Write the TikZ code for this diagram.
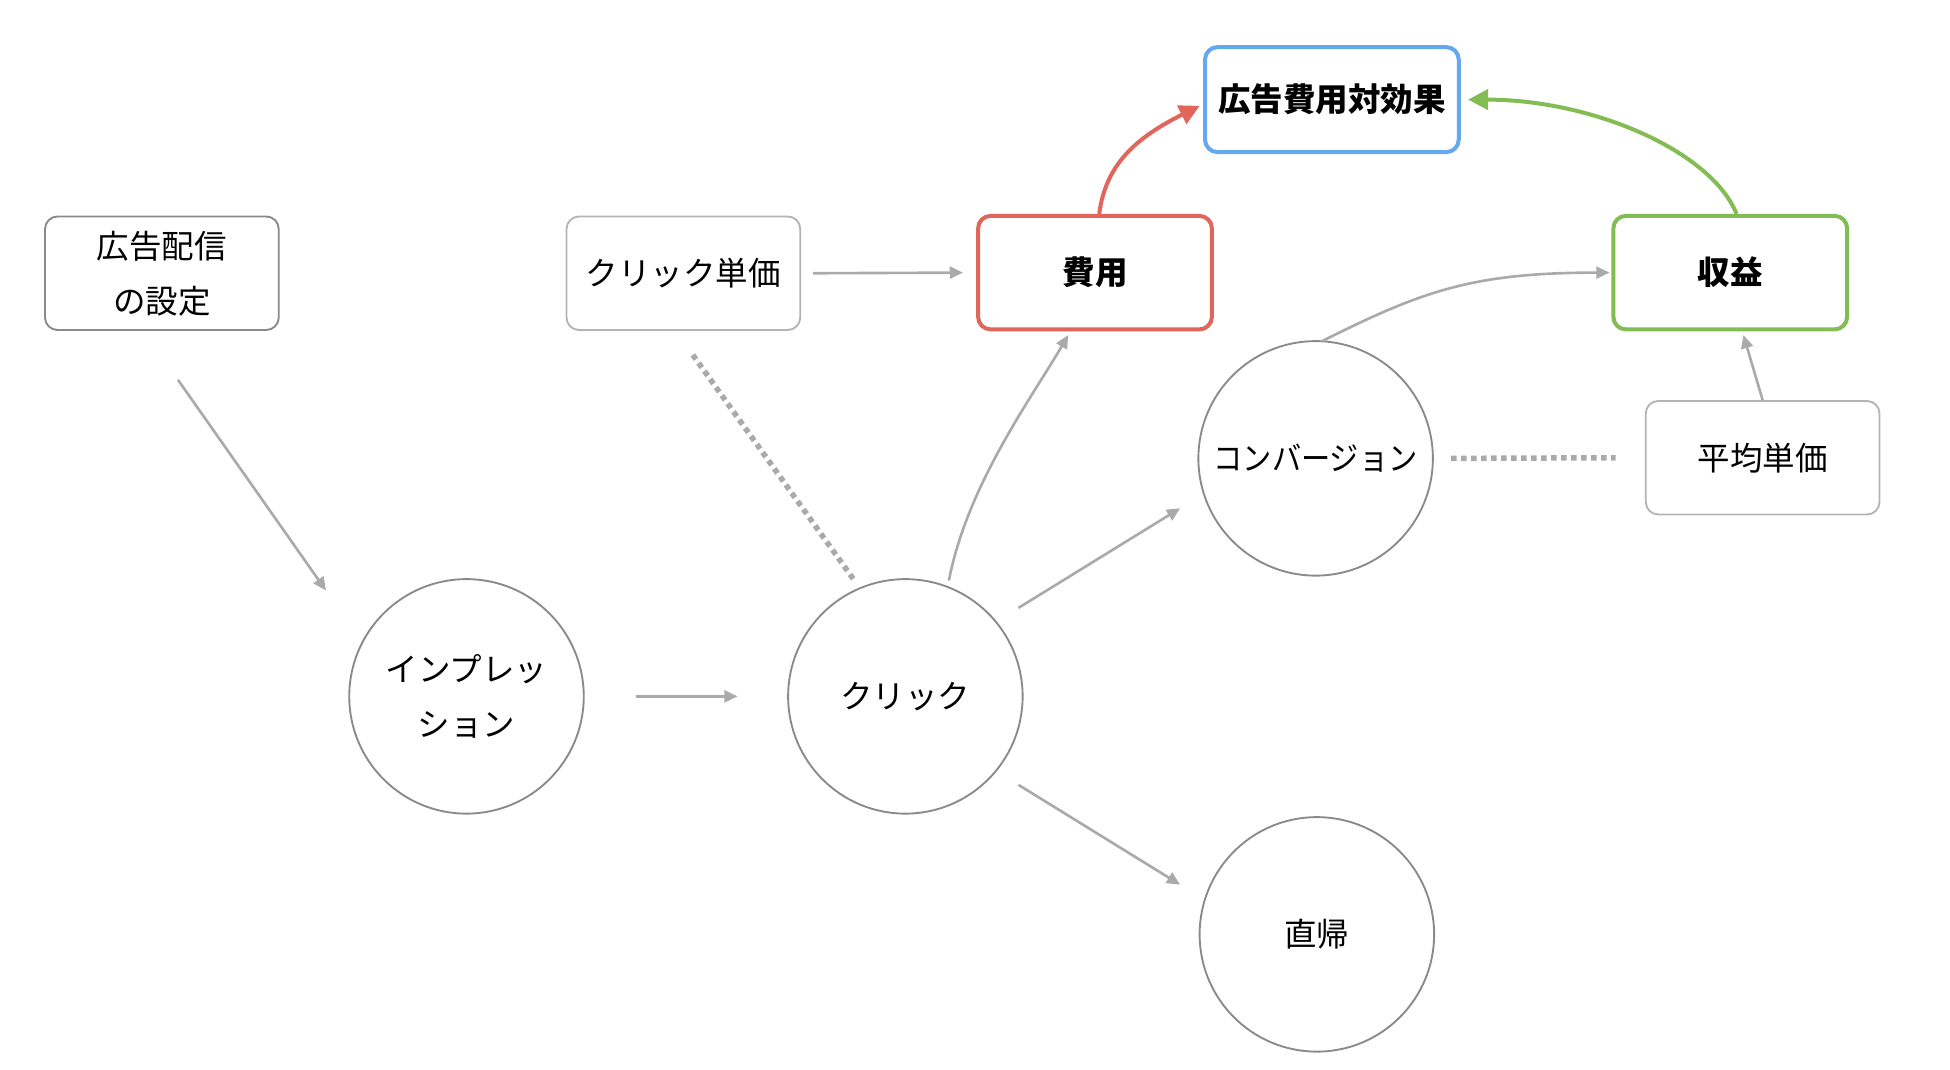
\documentclass[tikz,border=0pt]{standalone}
\usepackage{fontspec}
\setmainfont{Noto Sans CJK JP}
\usetikzlibrary{arrows.meta,calc}
\definecolor{arrgray}{HTML}{AAAAAA}
\definecolor{circgray}{HTML}{8A8A8A}
\definecolor{boxgray}{HTML}{8A8A8A}
\definecolor{lightbox}{HTML}{B4B4B4}
\definecolor{redc}{HTML}{E0665C}
\definecolor{bluec}{HTML}{66A8F0}
\definecolor{greenc}{HTML}{84BC54}
\tikzset{
  txt/.style={font=\fontsize{13}{22}\selectfont, align=center, text=black},
  basebox/.style={txt, rectangle, rounded corners=5pt, minimum width=93.5pt, minimum height=45.4pt, inner sep=0pt},
  graybox/.style={basebox, draw=boxgray, line width=0.75pt},
  lightgraybox/.style={basebox, draw=lightbox, line width=0.75pt},
  colbox/.style={basebox, line width=1.6pt, font=\fontsize{13}{22}\selectfont\bfseries},
  circ/.style={txt, circle, draw=circgray, line width=0.75pt, minimum size=93.8pt, inner sep=0pt},
  arr/.style={draw=arrgray, line width=1.05pt, -{Triangle[length=5.3pt,width=4.8pt]}},
  dotline/.style={draw=arrgray, line width=2.2pt, dash pattern=on 2.2pt off 1.8pt},
  colarr/.style={line width=1.6pt, -{Triangle[length=8pt,width=8pt]}}
}
\begin{document}
\begin{tikzpicture}[x=0.5pt,y=-0.5pt]
\useasboundingbox (0,0) rectangle (1560,856);
% boxes
\node[graybox] (haishin) at (129.5,218.6) {広告配信\\の設定};
\node[lightgraybox] (tanka) at (546.7,218.6) {クリック単価};
\node[colbox, draw=redc] (hiyou) at (876,218.1) {費用};
\node[colbox, draw=bluec, minimum width=101.5pt, minimum height=42pt] (roas) at (1065.5,79.7) {広告費用対効果};
\node[colbox, draw=greenc] (shueki) at (1384.2,218.1) {収益};
\node[lightgraybox] (heikin) at (1410.1,366.2) {平均単価};
% circles
\node[circ] (imp) at (373.2,557.1) {インプレッ\\ション};
\node[circ] (click) at (724.3,557.1) {クリック};
\node[circ] (conv) at (1052.5,366.7) {\scalebox{0.9}[1]{コンバージョン}};
\node[circ] (bounce) at (1053.5,747.5) {直帰};
% gray arrows
\draw[arr] ($(haishin)+(12.9,85.3)$) -- ($(imp)+(-112.4,-84.7)$);
\draw[arr] ($(imp)+(135.2,0)$) -- ($(click)+(-134.3,0)$);
\draw[arr] ($(tanka.east)+(9.5,0)$) -- ($(hiyou.west)+(-10.5,0)$);
\draw[arr] ($(click)+(34.8,-92.7)$) .. controls +(15,-77) and +(-29,50) .. ($(hiyou)+(-21.4,49.9)$);
\draw[arr] ($(click)+(90.5,-70.8)$) -- ($(conv)+(-108.4,39.9)$);
\draw[arr] ($(click)+(90.5,70.8)$) -- ($(bounce)+(-109.4,-39.8)$);
\draw[arr] ($(conv)+(5,-93.7)$) .. controls +(80,-40) and +(-110,0) .. ($(shueki.west)+(-1.5,0)$);
\draw[arr] (heikin.north) -- ($(shueki)+(10.5,49.9)$);
% dotted
\draw[dotline] ($(tanka)+(7.5,65.3)$) -- ($(click)+(-40.8,-92.7)$);
\draw[dotline] ($(conv)+(108.4,0)$) -- ($(heikin.west)+(-23.4,0)$);
% coloured arrows
\draw[colarr, draw=redc] ($(hiyou.north)+(3.4,0)$) .. controls +(5,-40) and +(-50,25) .. ($(roas.west)+(-2.7,5)$);
\draw[colarr, draw=greenc] ($(shueki.north)+(5,0)$) .. controls +(-20,-50) and +(100,0) .. ($(roas.east)+(5.8,0)$);
\end{tikzpicture}
\end{document}
